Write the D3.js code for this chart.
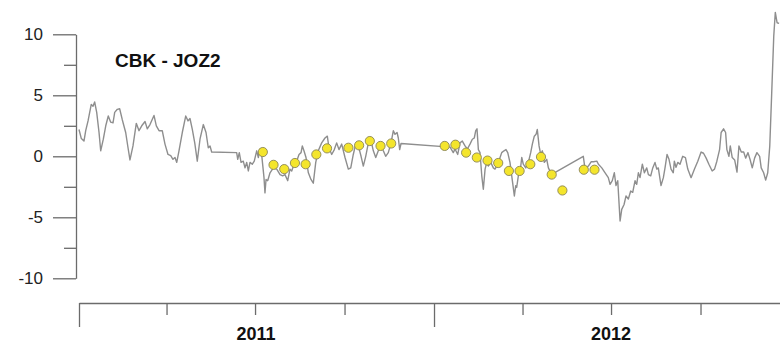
<!DOCTYPE html>
<html>
<head>
<meta charset="utf-8">
<script src="https://cdn.jsdelivr.net/npm/d3@7/dist/d3.min.js"></script>
<style>
  html, body { margin: 0; padding: 0; background: #fff; }
  svg { display: block; }
  text { font-family: "Liberation Sans", Arial, sans-serif; }
</style>
</head>
<body>
<svg id="chart" width="780" height="343"></svg>
<script>
// ---- DATA ----
const startDate = "2011-01-01";
const title = "CBK - JOZ2";
const yTickValues = [-10, -7.5, -5, -2.5, 0, 2.5, 5, 7.5, 10];
const yTickLabels = ["-10", "", "-5", "", "0", "", "5", "", "10"];
const yearLabels = ["2011", "2012"];
const yearLabelDates = ["2011-07-02", "2012-07-01"];

// continuous series: days since startDate, value
const lineDay = [0,2.4,5.1,6.9,9.3,12.6,14.4,16.1,18.2,20.6,22.3,25,27.5,30.1,32.6,35,36.7,39.4,41.8,44.5,48,50.4,52.4,55.5,58.9,61.7,64.5,67.9,70.2,73,77.1,79.5,82.3,85.6,88.4,91.5,94.3,96.6,98.7,100.5,102.8,106.2,109.7,112.1,114.1,116.5,119,121.6,
124.4,127.8,130.6,132.9,134.7,136.4,162.1,163.2,164.8,166.6,168.9,170.7,172.4,174.1,175.8,178.2,180.2,182.7,184.4,186.1,187.9,190.2,191.2,192.3,194,196.4,199.8,203.3,206.7,209.4,211.8,214.6,216.9,218.7,221.1,223.8,226.2,228.3,229.6,231.3,233.4,235.8,238.5,240.9,243.4,246,
249.5,252.9,255.3,257,259.8,262.5,264.9,267.3,270.1,273.5,276.9,279.4,282,284.5,287.2,290,292.3,294.8,297.5,299.9,302.6,305.1,307.7,310.5,312.9,315.3,318,320.8,323.2,324.9,327,328.3,329.7,331.1,
381.5,384.8,386.6,389.4,391.7,394.1,396.9,399.3,402,404.4,406.4,407.9,409.2,410.6,412.3,414.1,415.7,417.5,419.2,420.8,423.3,426,427.7,430.5,432.9,434.6,437,439,440.8,443.1,444.9,447.6,449,450,451.7,453.4,455.2,456.8,459.3,462,464.4,466.1,468.1,469.9,471.2,473,474.7,476.4,478.4,480.9,482.6,486,488.7,
518.5,520.3,523.7,526.5,528.9,532.4,534,537.5,540.9,544.2,546,548.3,550.4,552.1,553.9,556.3,558,560.4,562.4,564.8,567.2,569.3,571.7,573.4,575.1,576.8,579.2,581.3,583.7,585.4,587.8,589.9,592.2,594,595.6,598.4,600.8,602.5,604.6,606.6,608.7,611,612.1,613.8,615.6,617.9,620.7,623.5,625.9,629.3,632.8,636.2,639.6,642.1,644.8,647.6,651,653.4,655.8,658.6,660.2,662.7,664.8,666.1,668.2,669.6,671.6,674.1,676.5,678.5,680.9,683.4,685.4,687.8,690.1,692.2,694.6,697,699.8,701.4,703.9,706,708.1,710.2,712.2,714.3,715.9,717.7,719.8];
const lineValue = [2.2,1.45,1.25,2.1,2.9,4.25,4.1,4.45,3.6,1.95,0.45,1.4,2.5,3.3,2.8,2.75,3.6,3.85,3.9,3.0,1.95,0.7,-0.3,0.85,2.7,2.1,2.5,2.85,2.25,2.6,3.35,2.5,2.1,2.1,1.0,0.15,0.05,-0.25,-0.1,-0.5,0.45,1.95,3.3,2.9,3.1,2.2,1.1,-0.4,
1.4,2.6,1.95,0.7,0.85,0.35,0.3,-0.25,0.3,-0.5,-0.4,-0.95,-0.5,-1.2,-0.5,-0.65,-0.4,0.45,-0.1,0.6,0.05,-1.75,-3.0,-1.9,-2.0,-1.35,-0.95,-1.05,-1.5,-1.6,-1.5,-2.0,-1.05,-1.2,-0.65,-0.4,0.15,0.3,0.85,0.45,-0.1,-1.35,-1.9,-2.2,-0.5,0.45,
1.1,1.5,1.65,0.7,0.15,0.55,1.1,0.55,1.0,-0.1,-1.05,-0.95,0.15,1.0,0.85,0.0,-0.8,0.0,1.1,1.4,0.45,-0.1,0.45,1.0,0.45,0.0,0.3,1.1,2.1,1.8,1.95,1.5,0.55,1.05,
0.75,0.3,0.6,0.15,1.1,1.25,0.85,0.6,1.0,1.4,1.5,2.1,2.25,0.55,0.3,-1.6,-2.7,-1.05,-0.5,-0.8,-0.5,-0.95,-1.05,-0.65,-0.1,0.3,0.45,0.55,0.3,-0.5,-1.6,-3.25,-2.4,-2.55,-1.6,-1.35,-0.1,-0.65,-0.95,-0.5,0.3,1.0,1.65,1.8,2.2,0.85,0.15,0.45,-0.5,-0.25,-0.95,-1.5,-1.35,
0.0,-1.05,-0.8,-0.45,-0.45,-0.4,-0.65,-0.95,-1.35,-1.75,-2.3,-2.0,-1.35,-2.4,-2.0,-5.3,-4.35,-3.95,-3.25,-3.5,-2.85,-2.95,-2.0,-2.3,-1.35,-1.75,-0.65,-1.35,-0.95,-1.5,-1.6,-0.95,-0.5,-1.05,-0.95,-2.4,-1.75,-0.95,0.15,-0.25,-1.05,-1.35,-0.4,-0.9,-0.5,-0.65,0.0,-0.1,-1.05,-1.75,-1.05,-0.4,0.35,0.25,-0.15,-0.65,-1.2,-1.05,-0.4,0.55,1.95,2.25,1.95,0.55,0.0,0.85,-0.1,-0.3,-1.3,0.85,0.35,0.35,-0.15,0.3,-0.3,-0.95,-0.15,0.3,0.0,-0.95,-1.35,-1.95,-1.35,0.85,5.2,9.85,11.8,10.95,10.9];

// point measurements: days since startDate, value
const dotDay = [189,200,211,222,233,244,255,277,288,299,310,321,376,387,398,409,420,431,442,453,464,475,486,497,519,530];
const dotValue = [0.35,-0.7,-1.05,-0.55,-0.65,0.15,0.65,0.7,0.9,1.25,0.85,1.05,0.85,0.95,0.3,-0.1,-0.35,-0.55,-1.2,-1.2,-0.65,-0.05,-1.5,-2.8,-1.1,-1.1];

// ---- CHART ----
const svg = d3.select("#chart");
const parse = d3.timeParse("%Y-%m-%d");
const t0 = parse(startDate);
const toDate = d => new Date(t0.getTime() + d * 86400000);

const x = d3.scaleTime()
  .domain([parse("2011-01-01"), parse("2013-01-01")])
  .range([79, 790]);
const y = d3.scaleLinear().domain([-10, 10]).range([278.3, 34.3]);

const axisColor = "#6b6b6b";

// Y axis
const yAxisG = svg.append("g").attr("transform", "translate(76,0)")
  .call(d3.axisLeft(y).tickValues(yTickValues).tickSize(12).tickSizeOuter(0).tickPadding(10)
    .tickFormat((d, i) => yTickLabels[i]));
yAxisG.select(".domain").attr("stroke", axisColor).attr("stroke-width", 1.3);
yAxisG.selectAll(".tick line").attr("stroke", axisColor).attr("stroke-width", 1.3)
  .attr("x2", (d, i) => yTickLabels[i] ? -23 : -12);
yAxisG.selectAll(".tick text").attr("x", -33).attr("fill", "#222")
  .style("font-size", "17px").style("font-family", "'Liberation Sans', Arial, sans-serif");

// X axis
const xTicks = d3.timeMonth.every(3).range(parse("2011-01-01"), parse("2013-01-02"));
const xAxisG = svg.append("g").attr("transform", "translate(0,303)")
  .call(d3.axisBottom(x).tickValues(xTicks).tickSize(12).tickSizeOuter(0).tickFormat(""));
xAxisG.select(".domain").attr("stroke", axisColor).attr("stroke-width", 1.3);
xAxisG.selectAll(".tick line").attr("stroke", axisColor).attr("stroke-width", 1.3)
  .attr("y2", d => d.getMonth() === 0 ? 24 : 12);

svg.append("g").selectAll("text").data(yearLabels).join("text")
  .attr("x", (d, i) => x(parse(yearLabelDates[i])))
  .attr("y", 340)
  .attr("text-anchor", "middle")
  .style("font-size", "18px").style("font-weight", "bold").attr("fill", "#111")
  .text(d => d);

// Title
svg.append("text").attr("x", 115).attr("y", 67)
  .style("font-size", "19px").style("font-weight", "bold").attr("fill", "#111")
  .text(title);

// Line
const lineData = lineDay.map((d, i) => ({ date: toDate(d), v: lineValue[i] }));
svg.append("path").datum(lineData)
  .attr("fill", "none").attr("stroke", "#8e8e8e").attr("stroke-width", 1.4)
  .attr("stroke-linejoin", "round")
  .attr("d", d3.line().x(d => x(d.date)).y(d => y(d.v)));

// Dots
const dotData = dotDay.map((d, i) => ({ date: toDate(d), v: dotValue[i] }));
svg.append("g").selectAll("circle").data(dotData).join("circle")
  .attr("cx", d => x(d.date)).attr("cy", d => y(d.v)).attr("r", 4.6)
  .attr("fill", "#f4e52c").attr("stroke", "#8a8458").attr("stroke-width", 0.9);
</script>
</body>
</html>
